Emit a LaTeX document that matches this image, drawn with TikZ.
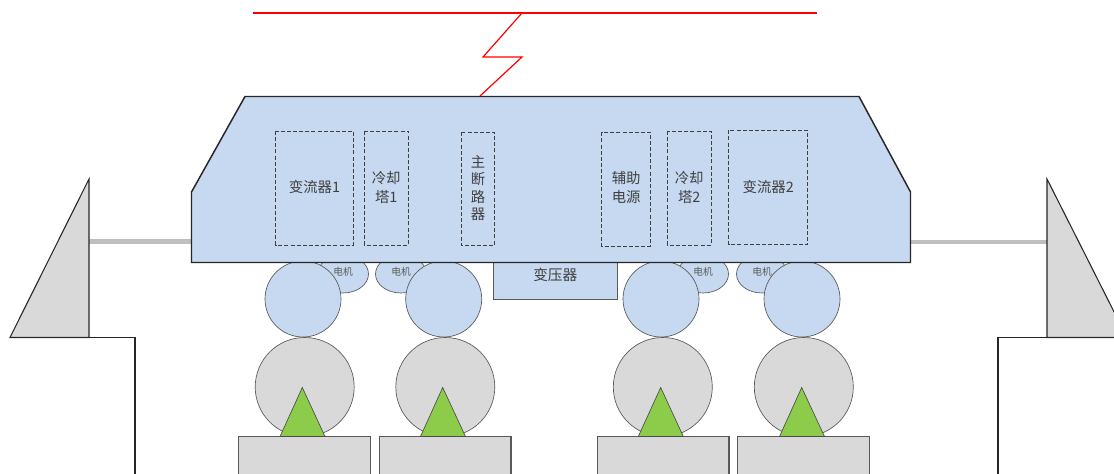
\documentclass[tikz,border=0pt]{standalone}
\usepackage{fontspec}
\newfontfamily\cjk{Noto Sans CJK SC}
\usetikzlibrary{shapes.geometric}
\definecolor{bodyblue}{HTML}{C6D9F1}
\definecolor{partgray}{HTML}{D9D9D9}
\definecolor{railgray}{HTML}{BFBFBF}
\definecolor{padgreen}{HTML}{8DCB4B}
\definecolor{inkgray}{HTML}{404040}
\definecolor{edgegray}{HTML}{595959}
\begin{document}
\begin{tikzpicture}[x=0.75pt,y=-0.75pt,
  every node/.style={font=\cjk, text=inkgray},
  carbody/.style={fill=bodyblue, draw=black!85, line width=1.1pt, line join=miter},
  unitbox/.style={draw=inkgray, dash pattern=on 3pt off 1.6pt, line width=0.7pt, inner sep=0pt, align=center},
  unitlabel/.style={font=\cjk\fontsize{10.8}{14.3}\selectfont, align=center},
  motor/.style={ellipse, fill=bodyblue, draw=edgegray, line width=0.5pt, inner sep=0pt,
    minimum width=38.25pt, minimum height=28.5pt, font=\cjk\fontsize{7.3}{8}\selectfont, text=edgegray},
  axle/.style={circle, fill=bodyblue, draw=edgegray, line width=0.5pt, inner sep=0pt, minimum size=57pt},
  wheel/.style={circle, fill=partgray, draw=edgegray, line width=0.5pt, inner sep=0pt, minimum size=74.25pt},
  pad/.style={fill=padgreen, draw=black!70, line width=0.5pt},
  plinth/.style={fill=partgray, draw=edgegray, line width=0.8pt},
  stand/.style={fill=partgray, draw=black!85, line width=0.8pt},
  rail/.style={draw=railgray, line width=3pt},
  wire/.style={draw=red, line width=0.9pt}]
\useasboundingbox (0,0) rectangle (1114,474);
\clip (0,0) rectangle (1114,474);

% overhead line and pantograph
\draw[wire] (253,13) -- (817,13);
\draw[wire] (522,13) -- (483,57) -- (522,57) -- (480,96);

% end stands with their platforms
\draw[rail] (89,241.5) -- (191,241.5);
\draw[rail] (911,242) -- (1047,242);
\draw[stand] (89,179) -- (10,337.5) -- (89,337.5) -- cycle;
\draw[black!85, line width=0.8pt] (89,337.5) -- (135,337.5) -- (135,474);
\draw[stand] (1047,179) -- (1127,337.5) -- (1047,337.5) -- cycle;
\draw[black!85, line width=0.8pt] (1047,337.5) -- (998,337.5) -- (998,474);

% pedestals, wheels and contact pads
\foreach \n/\cx/\wx/\ax/\bl/\br/\pl/\pr in {1/304.7/303/302.3/280/325/238.3/370.3,
                                           2/445.3/443.7/442.7/420.5/465.5/379.3/511,
                                           3/662.8/661/660.7/638.3/683.3/597.3/729,
                                           4/803.8/802/801.7/779.5/824.5/737.3/869.3}{
  \node[wheel] (wheel\n) at (\cx,387) {};
  \draw[plinth] (\pl,478) -- (\pl,436.5) -- (\pr,436.5) -- (\pr,478);
  \draw[pad] (\ax,387.5) -- (\bl,436.5) -- (\br,436.5) -- cycle;
}

% traction motors
\node[motor] (motor1) at (343,274) {\raisebox{4pt}{电机}};
\node[motor] (motor2) at (401,274) {\raisebox{4pt}{电机}};
\node[motor] (motor3) at (703,274) {\raisebox{4pt}{电机}};
\node[motor] (motor4) at (762,274) {\raisebox{4pt}{电机}};

% axles
\node[axle] (axle1) at (303,299) {};
\node[axle] (axle2) at (443.7,299) {};
\node[axle] (axle3) at (661,299) {};
\node[axle] (axle4) at (802,299) {};

% transformer under the floor
\draw[fill=bodyblue, draw=edgegray, line width=0.8pt] (493.3,258) rectangle (617.3,299.5);
\node[font=\cjk\fontsize{11}{13}\selectfont] (trafo) at (555.3,274.5) {变压器};

% car body
\draw[carbody] (245,96.5) -- (859,96.5) -- (910.5,192) -- (910.5,262.5)
  -- (191.5,262.5) -- (191.5,192) -- cycle;

% equipment inside the body
\draw[unitbox] (275.7,131) rectangle (353.3,245);
\node[unitlabel] (conv1) at (314.5,187) {变流器1};
\draw[unitbox] (364,131) rectangle (408.3,245);
\node[unitlabel] (cool1) at (386.2,187.5) {冷却\\塔1};
\draw[unitbox] (461.7,132.3) rectangle (494.3,245.7);
\node[unitlabel, font=\cjk\fontsize{10.8}{13.2}\selectfont] (breaker) at (478,188) {主\\断\\路\\器};
\draw[unitbox] (601.7,132.3) rectangle (650.7,246);
\node[unitlabel] (aux) at (626.2,187.5) {辅助\\电源};
\draw[unitbox] (667.3,131) rectangle (711,245);
\node[unitlabel] (cool2) at (689.2,187.5) {冷却\\塔2};
\draw[unitbox] (728.7,130.3) rectangle (807.7,244.3);
\node[unitlabel] (conv2) at (768.2,187) {变流器2};
\end{tikzpicture}
\end{document}
